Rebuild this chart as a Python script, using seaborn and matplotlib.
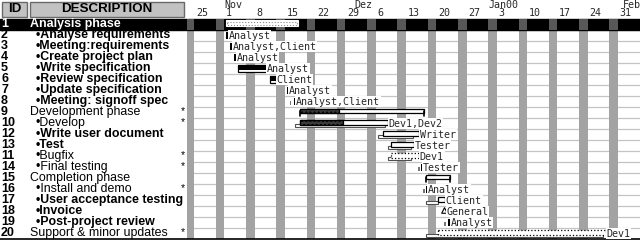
import matplotlib
matplotlib.use("Agg")
import matplotlib.pyplot as plt
import matplotlib.dates as mdates
from matplotlib.patches import Rectangle
import pandas as pd
import seaborn as sns

# ---------------- data ----------------
ids = ["1", "2", "3", "4", "5", "6", "7", "8", "9", "10", "12", "13", "11",
       "14", "15", "16", "17", "18", "19", "20"]
descriptions = ["Analysis phase", "•Analyse requirements", "•Meeting:requirements",
                "•Create project plan", "•Write specification", "•Review specification",
                "•Update specification", "•Meeting: signoff spec", "Development phase",
                "•Develop", "•Write user document", "•Test", "•Bugfix", "•Final testing",
                "Completion phase", "•Install and demo", "•User acceptance testing",
                "•Invoice", "•Post-project review", "Support & minor updates"]
flags = ["", "", "", "", "", "", "", "", "*", "*", "", "", "*", "*", "", "*", "", "", "", "*"]
bold_rows = [True, True, True, True, True, True, True, True, False, False, True, True,
             False, False, False, False, True, True, True, False]
kinds = ["summary", "task", "task", "task", "task", "task", "task", "task", "summary",
         "task", "task", "task", "task", "task", "summary", "task", "task", "milestone",
         "task", "task"]
plan_start = ["1999-11-01 11:00", "1999-11-01 11:00", "1999-11-02 10:00", "1999-11-03 08:00",
              "1999-11-04 06:00", "1999-11-11 12:00", "1999-11-15 11:00", "1999-11-17 02:00",
              "1999-11-18 12:00", "1999-11-18 12:00", "1999-12-07 15:00", "1999-12-09 12:00",
              "1999-12-09 12:00", "1999-12-16 12:00", "1999-12-17 16:00", "1999-12-17 16:00",
              "1999-12-20 11:00", "1999-12-21 19:00", "1999-12-22 19:00", "1999-12-20 11:00"]
plan_end = ["1999-11-18 00:00", "1999-11-01 20:00", "1999-11-02 18:00", "1999-11-03 16:00",
            "1999-11-10 19:00", "1999-11-12 22:00", "1999-11-15 19:00", "1999-11-17 10:00",
            "1999-12-17 05:00", "1999-12-08 19:00", "1999-12-16 01:00", "1999-12-14 21:00",
            "1999-12-16 01:00", "1999-12-16 20:00", "1999-12-23 01:00", "1999-12-18 00:00",
            "1999-12-22 02:00", "1999-12-21 19:00", "1999-12-23 04:00", "2000-01-28 05:00"]
progress_end = [None, None, None, None, "1999-11-10 19:00", "1999-11-12 22:00", None, None,
                "1999-11-27 10:00", "1999-11-28 12:00", None, None, None, None, None, None,
                None, None, None, None]
base_start = [None, None, None, None, None, None, None, "1999-11-16 04:00", None,
              "1999-11-17 08:00", "1999-12-06 11:00", "1999-12-08 19:00", "1999-12-08 19:00",
              "1999-12-15 19:00", None, "1999-12-17 00:00", "1999-12-17 16:00", None,
              "1999-12-21 21:00", "1999-12-17 16:00"]
base_end = [None, None, None, None, None, None, None, "1999-11-16 12:00", None,
            "1999-12-08 02:00", "1999-12-14 15:00", "1999-12-14 04:00", "1999-12-14 04:00",
            "1999-12-16 03:00", None, "1999-12-17 08:00", "1999-12-20 11:00", None,
            "1999-12-22 05:00", "2000-01-27 12:00"]
dotted = [True, False, False, False, False, False, False, False, False, False, False, False,
          True, False, False, False, False, False, False, True]
resources = ["", "Analyst", "Analyst,Client", "Analyst", "Analyst", "Client", "Analyst",
             "Analyst,Client", "", "Dev1,Dev2", "Writer", "Tester", "Dev1", "Tester", "",
             "Analyst", "Client", "General", "Analyst", "Dev1"]
month_starts = ["1999-11-01", "1999-12-01", "2000-01-01", "2000-02-01"]
month_labels = ["Nov", "Dez", "Jan00", "Feb"]
view_start = "1999-10-23 08:53"
view_end = "2000-02-05 01:41"

# ---------------- style ----------------
sns.set_theme(style="white")
plt.rcParams["font.family"] = ["Liberation Sans", "DejaVu Sans"]
MONO = "DejaVu Sans Mono"

W, H = 640, 240
fig = plt.figure(figsize=(6.4, 2.4), dpi=100)
fig.patch.set_facecolor("white")

ROW_H = 11.0
TOP = 18.5
def px2row(y):
    return 0.5 + (y - TOP) / ROW_H
ylim = (px2row(H), px2row(0))
n = len(ids)
rows = list(range(1, n + 1))

LEFT_W = 187
axl = fig.add_axes([0, 0, LEFT_W / W, 1])
ax = fig.add_axes([LEFT_W / W, 0, (W - LEFT_W) / W, 1])
for a in (axl, ax):
    a.set_ylim(*ylim)
    a.axis("off")
axl.set_xlim(0, LEFT_W)

d = lambda s: mdates.date2num(pd.Timestamp(s))
ax.set_xlim(d(view_start), d(view_end))

# ---------------- timeline background ----------------
y_rows_top = 1 - TOP / H
y_row1_bot = 1 - (TOP + ROW_H) / H
y_bottom = 1 - 239 / H
for r in range(1, n):
    ax.axhline(r + 0.5, color="#c4c4c4", lw=0.9, zorder=1)
ax.axhspan(0.5, 1.5, color="black", zorder=1.5)
axl.axhspan(0.5, 1.5, color="black", zorder=1.5)
sats = pd.date_range("1999-10-16", view_end, freq="W-SAT")
for s in sats:
    x0 = mdates.date2num(s)
    ax.axvspan(x0, x0 + 2, ymin=y_bottom, ymax=y_row1_bot, color="#a3a3a3", lw=0, zorder=1.2)
    ax.axvspan(x0, x0 + 2, ymin=y_row1_bot, ymax=y_rows_top, color="#585858", lw=0, zorder=1.6)
ax.axhline(px2row(239), color="black", lw=1.2, zorder=5)
axl.axhline(px2row(239), color="black", lw=1.2, zorder=5)

# header
for ms, ml in zip(month_starts, month_labels):
    ax.text(d(ms), px2row(5), ml, family=MONO, fontsize=7.2, va="center", ha="left")
mons = pd.date_range("1999-10-18", view_end, freq="W-MON")
for m in mons:
    if mdates.date2num(m) < ax.get_xlim()[0]:
        continue
    ax.text(mdates.date2num(m) + 0.4, px2row(13.5), str(m.day), family=MONO,
            fontsize=7.2, va="center", ha="left")

# ---------------- bars ----------------
day_px = 7 / 30.0  # days per pixel
for i, r in enumerate(rows):
    k = kinds[i]
    xs, xe = d(plan_start[i]), d(plan_end[i])
    # baseline
    if base_start[i]:
        bs, be = d(base_start[i]), d(base_end[i])
        if be - bs < 0.5:
            ax.barh(r + 0.2, be - bs, left=bs, height=0.35, color="#777777", lw=0, zorder=3)
        else:
            ax.barh(r + 0.23, be - bs, left=bs, height=0.27, color="white",
                    edgecolor="#505050", lw=0.8, zorder=3)
    if k == "summary":
        if i == 0:
            ax.barh(r - 0.05, xe - xs, left=xs, height=0.55, color="white",
                    edgecolor="white", lw=0.8, zorder=4)
            ax.barh(r - 0.05, xe - xs - 2 * day_px, left=xs + day_px, height=0.3,
                    color="white", edgecolor="#8a8a8a", lw=0.8, ls=":", zorder=4.2)
        else:
            ax.barh(r - 0.09, xe - xs, left=xs, height=0.33, color="white",
                    edgecolor="black", lw=0.9, zorder=4)
            if progress_end[i]:
                pe = d(progress_end[i])
                ax.barh(r - 0.09, pe - xs, left=xs, height=0.33, color="#3a3a3a",
                        edgecolor="black", lw=0.9, hatch="....", zorder=4.1)
            for xx in (xs, xe):
                ax.plot([xx, xx], [r - 0.09, r + 0.32], color="black", lw=1.2, zorder=4.2)
    elif k == "milestone":
        sns.scatterplot(x=[xs], y=[r - 0.12], marker="^", s=16, color="white",
                        edgecolor="black", linewidth=0.8, ax=ax, zorder=4, legend=False)
        xe = xs + 2 * day_px
    else:
        if xe - xs < 0.5:
            ax.barh(r + 0.05, xe - xs, left=xs, height=0.6, color="black", lw=0, zorder=4)
        elif kinds[i] == "task" and i < 8:
            ax.barh(r + 0.05, xe - xs, left=xs, height=0.62, color="white",
                    edgecolor="black", lw=0.9, zorder=4)
            ax.barh(r - 0.05, xe - xs, left=xs, height=0.42, color="black", lw=0, zorder=4.1)
        else:
            ax.barh(r - 0.045, xe - xs, left=xs, height=0.45, color="white",
                    edgecolor="black", lw=0.9, ls=":" if dotted[i] else "-", zorder=4)
            if progress_end[i]:
                pe = d(progress_end[i])
                ax.barh(r - 0.045, pe - xs, left=xs, height=0.45, color="#3a3a3a",
                        edgecolor="black", lw=0.9, hatch="....", zorder=4.1)
    if resources[i]:
        ax.text(xe + 0.5 * day_px, r + 0.05, resources[i], family=MONO, fontsize=7.2,
                va="center", ha="left", zorder=6,
                bbox=dict(facecolor="white", edgecolor="none", pad=0.6))

# ---------------- left table ----------------
def hdr_box(x0, x1, label):
    y0, y1 = px2row(1.5), px2row(16.5)
    axl.add_patch(Rectangle((x0, y0), x1 - x0, y1 - y0, facecolor="#c2c2c2",
                            edgecolor="#6a6a6a", lw=1.0, zorder=2))
    axl.text((x0 + x1) / 2, px2row(9), label, ha="center", va="center",
             fontsize=9.6, fontweight="bold", color="black", zorder=3)
hdr_box(2.5, 27, "ID")
hdr_box(30, 184, "DESCRIPTION")

for i, r in enumerate(rows):
    col = "white" if i == 0 else "black"
    axl.text(1.0, r + 0.02, ids[i], fontsize=9.0, fontweight="bold", color=col,
             va="center", ha="left", zorder=3)
    desc = descriptions[i]
    x = 36 if desc.startswith("•") else 30
    axl.text(x, r + 0.02, desc, fontsize=8.9,
             fontweight="bold" if bold_rows[i] else "normal",
             color=col, va="center", ha="left", zorder=3)
    if flags[i]:
        axl.text(181, r - 0.1, flags[i], fontsize=7.5, color=col, va="center",
                 ha="left", zorder=3)

fig.savefig("out.png", dpi=100, facecolor="white")
